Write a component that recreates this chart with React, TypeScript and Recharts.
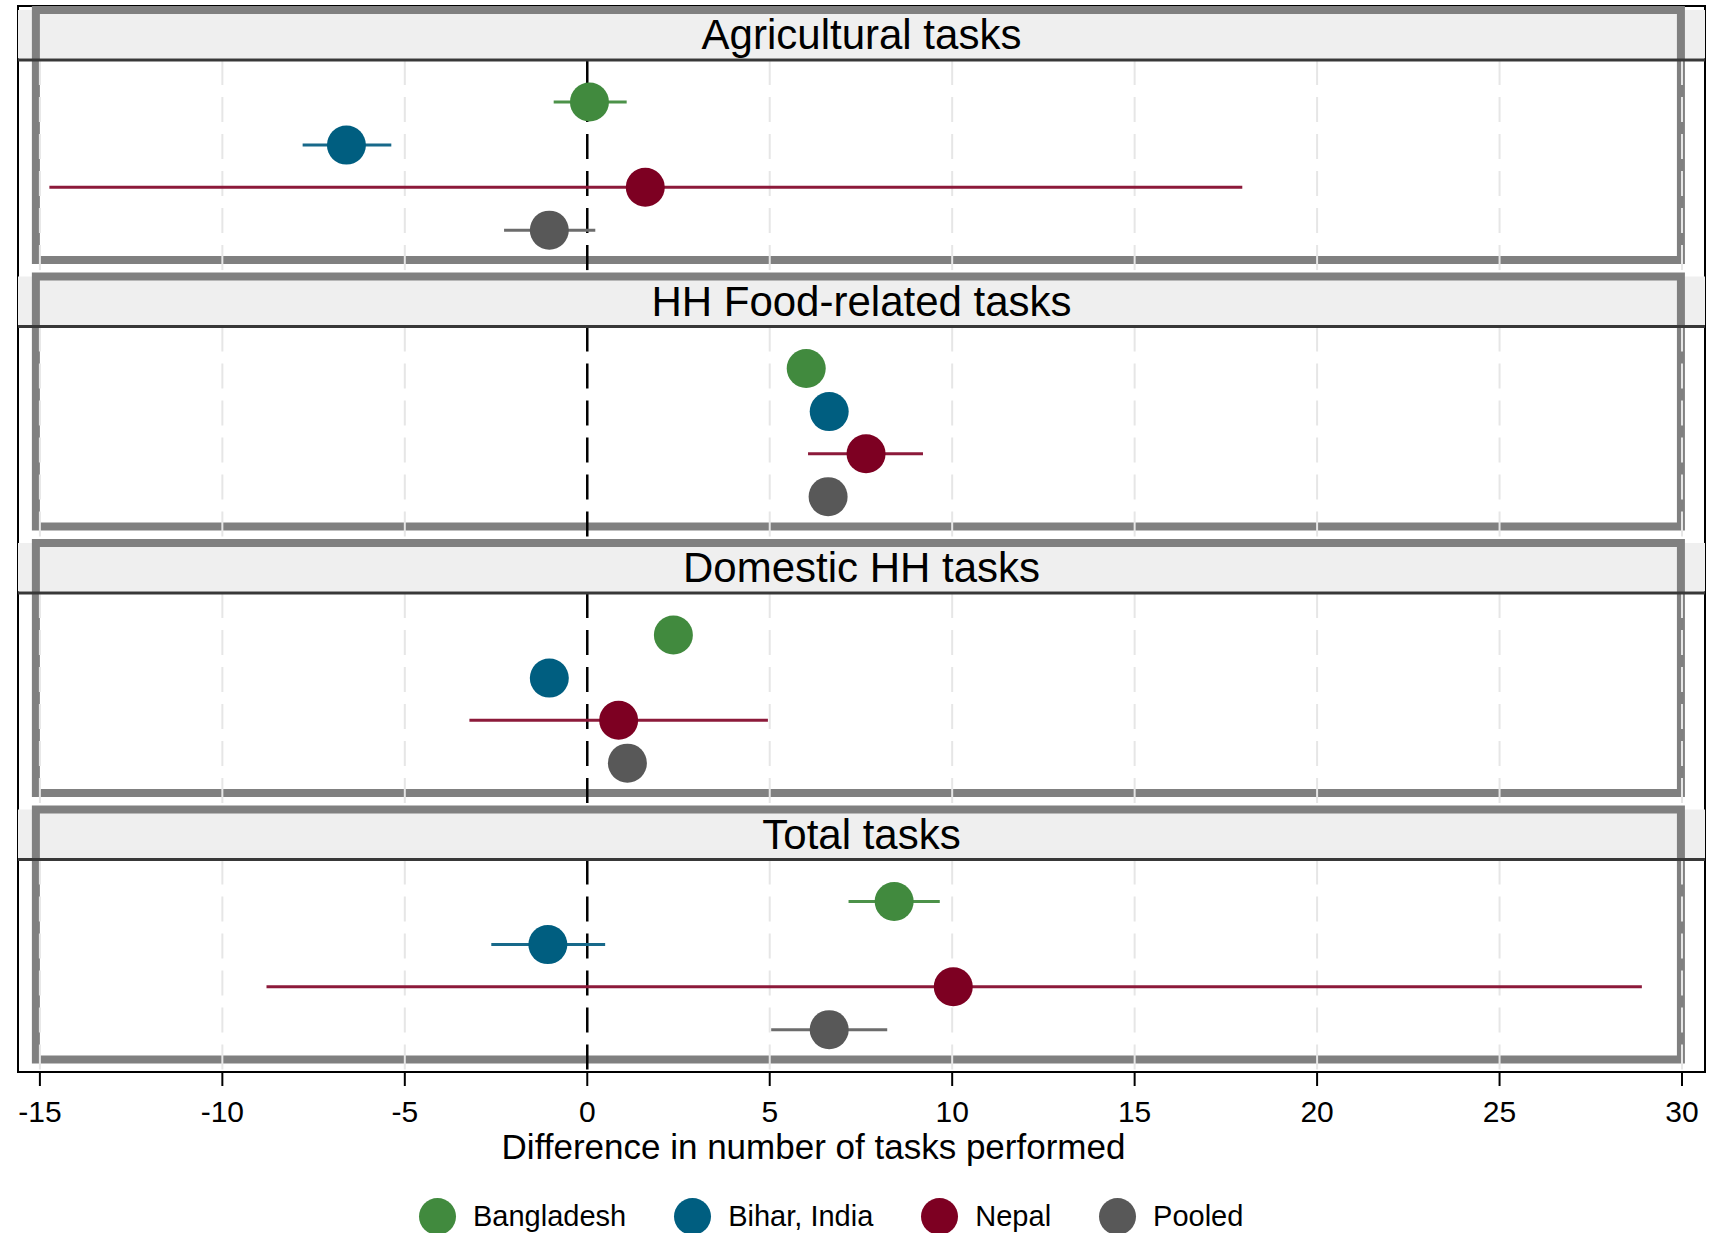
import {
  ScatterChart,
  Scatter,
  XAxis,
  YAxis,
  ErrorBar,
  ReferenceArea,
  ReferenceLine,
  Legend,
} from "recharts";

const panels = [
  "Agricultural tasks",
  "HH Food-related tasks",
  "Domestic HH tasks",
  "Total tasks",
];
const countries = ["Bangladesh", "Bihar, India", "Nepal", "Pooled"];
const dotColors = ["#418a3e", "#005e80", "#7d0022", "#585858"];
const barColors = ["#4c9249", "#17698a", "#8c1a3a", "#6c6c6c"];
const xTicks = [-15, -10, -5, 0, 5, 10, 15, 20, 25, 30];

// point estimates and CI bounds, one value per panel
const bangladeshEst = [0.06, 6.0, 2.36, 8.41];
const bangladeshLo = [-0.92, 5.7, 2.05, 7.16];
const bangladeshHi = [1.08, 6.3, 2.65, 9.66];

const biharEst = [-6.6, 6.63, -1.04, -1.08];
const biharLo = [-7.8, 6.35, -1.35, -2.63];
const biharHi = [-5.37, 6.9, -0.75, 0.49];

const nepalEst = [1.59, 7.64, 0.86, 10.03];
const nepalLo = [-14.74, 6.05, -3.23, -8.79];
const nepalHi = [17.95, 9.2, 4.95, 28.9];

const pooledEst = [-1.04, 6.6, 1.1, 6.63];
const pooledLo = [-2.28, 6.35, 0.85, 5.04];
const pooledHi = [0.22, 6.85, 1.35, 8.22];

const estimates = [bangladeshEst, biharEst, nepalEst, pooledEst];
const lows = [bangladeshLo, biharLo, nepalLo, pooledLo];
const highs = [bangladeshHi, biharHi, nepalHi, pooledHi];

// layout inside one panel (fraction of panel height)
const X_MIN = -15.6;
const X_MAX = 30.63;
const BOX_TOP = 0.015;
const HEAD_BOTTOM = 0.203;
const BOX_BOTTOM = 0.953;
const rowPos = [0.36, 0.522, 0.68, 0.841];

const FONT = '"Liberation Sans", Arial, sans-serif';

const seriesData = countries.map((_, c) =>
  panels.map((_, p) => ({
    x: estimates[c][p],
    y: p + rowPos[c],
    err: [estimates[c][p] - lows[c][p], highs[c][p] - estimates[c][p]],
  }))
);

const renderLegend = () => (
  <div
    style={{
      display: "flex",
      alignItems: "center",
      boxSizing: "border-box",
      height: 44,
      paddingTop: 10,
      paddingLeft: 419,
      fontFamily: FONT,
      fontSize: 29,
      color: "#000",
    }}
  >
    {countries.map((name, i) => (
      <div
        key={name}
        style={{
          display: "flex",
          alignItems: "center",
          marginRight: i < countries.length - 1 ? 48 : 0,
        }}
      >
        <div
          style={{
            width: 37,
            height: 37,
            borderRadius: "50%",
            background: dotColors[i],
            marginRight: 17,
          }}
        />
        <span>{name}</span>
      </div>
    ))}
  </div>
);

export default function App() {
  return (
    <div style={{ position: "absolute", left: 0, top: 0, background: "#fff" }}>
      <ScatterChart
        width={1722}
        height={1233}
        margin={{ top: 6, right: 17, bottom: 0, left: 18 }}
        style={{ fontFamily: FONT }}
      >
        <XAxis
          type="number"
          dataKey="x"
          domain={[X_MIN, X_MAX]}
          allowDataOverflow
          ticks={xTicks}
          interval={0}
          height={117}
          tickSize={14}
          tickMargin={15}
          axisLine={{ stroke: "#000", strokeWidth: 2 }}
          tickLine={{ stroke: "#000", strokeWidth: 2 }}
          tick={{ fontSize: 30, fill: "#000" }}
          label={{
            value: "Difference in number of tasks performed",
            position: "insideBottom",
            offset: 30,
            dx: -48,
            fontSize: 35,
            fill: "#000",
          }}
        />
        <YAxis type="number" dataKey="y" domain={[0, 4]} reversed hide />

        {/* outer frame */}
        <ReferenceArea
          x1={X_MIN}
          x2={X_MAX}
          y1={0}
          y2={4}
          fill="none"
          stroke="#000"
          strokeWidth={2}
        />

        {/* grid and zero line, skipping the header strips */}
        {panels.map((_, p) =>
          xTicks.map((t) => (
            <ReferenceLine
              key={`g${p}-${t}`}
              segment={[
                { x: t, y: p + HEAD_BOTTOM },
                { x: t, y: p < 3 ? p + 1 + BOX_TOP : 4 },
              ]}
              stroke={t === 0 ? "#000" : "#e6e6e6"}
              strokeWidth={t === 0 ? 2.5 : 2}
              strokeDasharray="25 12"
            />
          ))
        )}

        {/* header strips */}
        {panels.map((name, p) => (
          <ReferenceArea
            key={`h${p}`}
            x1={X_MIN}
            x2={X_MAX}
            y1={p + BOX_TOP}
            y2={p + HEAD_BOTTOM - 0.006}
            fill="#efefef"
            fillOpacity={1}
            stroke="none"
            label={{
              value: name,
              position: "center",
              fontSize: 42,
              fill: "#000",
            }}
          />
        ))}
        {panels.map((_, p) => (
          <ReferenceLine
            key={`hl${p}`}
            y={p + HEAD_BOTTOM}
            stroke="#383838"
            strokeWidth={3}
          />
        ))}

        {/* thick grey panel boxes */}
        {panels.map((_, p) => (
          <ReferenceArea
            key={`b${p}`}
            x1={-15.11}
            x2={29.97}
            y1={p + BOX_TOP}
            y2={p + BOX_BOTTOM}
            fill="none"
            stroke="#808080"
            strokeWidth={8}
          />
        ))}

        {countries.map((name, c) => (
          <Scatter
            key={name}
            name={name}
            data={seriesData[c]}
            fill={dotColors[c]}
            isAnimationActive={false}
            shape={(props: any) => (
              <circle cx={props.cx} cy={props.cy} r={19.5} fill={dotColors[c]} />
            )}
          >
            <ErrorBar
              dataKey="err"
              direction="x"
              width={0}
              stroke={barColors[c]}
              strokeWidth={3}
              isAnimationActive={false}
            />
          </Scatter>
        ))}

        <Legend
          verticalAlign="bottom"
          content={renderLegend}
          wrapperStyle={{ left: 0, width: 1722 }}
        />
      </ScatterChart>
    </div>
  );
}
